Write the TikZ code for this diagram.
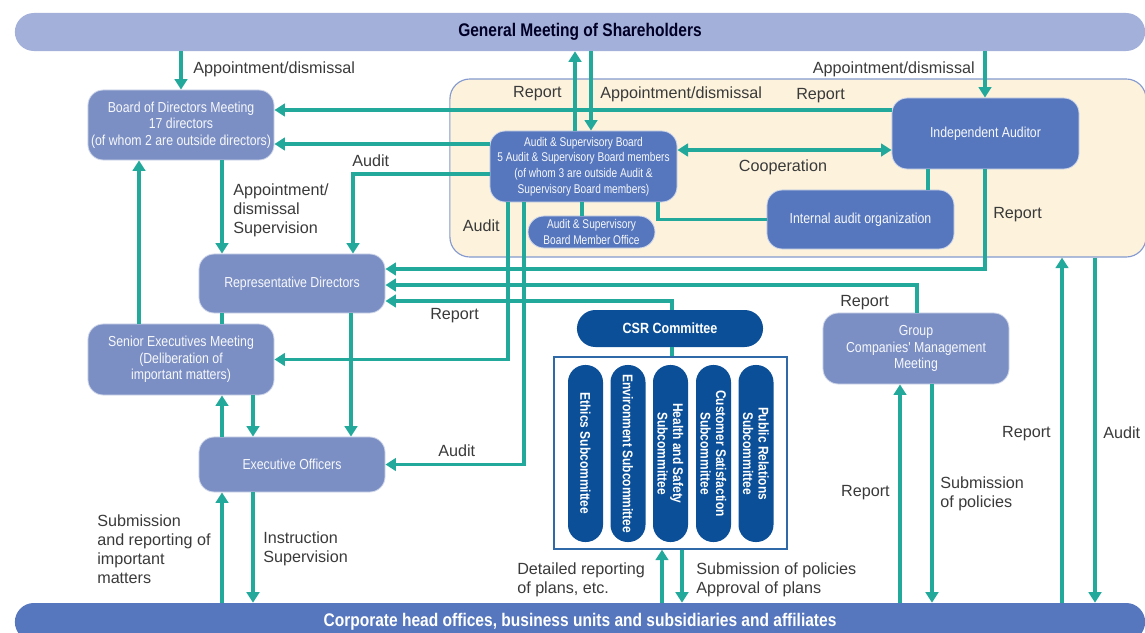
\documentclass[tikz,border=0pt]{standalone}
\usepackage{fontspec}
\setmainfont{Liberation Sans}
\newfontfamily\condfont[FakeStretch=0.85]{Liberation Sans}
\newfontfamily\narrowfont[FakeStretch=0.8]{Liberation Sans}
\usepackage{tikz}
\usetikzlibrary{arrows.meta, positioning}

\definecolor{flowteal}{HTML}{22A99B}
\definecolor{sharebar}{HTML}{A3B0DA}
\definecolor{paleblue}{HTML}{7B8FC4}
\definecolor{midblue}{HTML}{5677BD}
\definecolor{deepblue}{HTML}{0B4F98}
\definecolor{zonefill}{HTML}{FDF3DD}
\definecolor{zoneedge}{HTML}{8399CF}
\definecolor{labelgray}{HTML}{3A3A3A}

\tikzset{
  orgbox/.style={rectangle, rounded corners=0.38cm, draw=white!65!paleblue, line width=0.6pt,
    text=white!94!paleblue, align=center, inner sep=2pt,
    minimum width=4.65cm, font=\condfont\fontsize{10.3}{11.7}\selectfont},
  palebox/.style={orgbox, fill=paleblue},
  midbox/.style={orgbox, fill=midblue},
  bar/.style={rectangle, rounded corners=0.475cm, minimum width=28.25cm, minimum height=0.95cm,
    inner sep=0pt, font=\condfont\bfseries\fontsize{13}{15}\selectfont},
  subpill/.style={rectangle, rounded corners=0.43cm, fill=deepblue, text=white, align=center,
    rotate=-90, minimum width=4.425cm, minimum height=0.875cm, inner sep=1pt,
    font=\condfont\bfseries\fontsize{10}{11}\selectfont},
  flow/.style={draw=flowteal, line width=2.8pt, -{Triangle[width=9pt,length=7.5pt]}},
  flowboth/.style={draw=flowteal, line width=2.8pt, {Triangle[width=9pt,length=7.5pt]}-{Triangle[width=9pt,length=7.5pt]}},
  link/.style={draw=flowteal, line width=2.8pt},
  lbl/.style={text=labelgray, align=left, inner sep=0pt, yshift=-1.5pt, font=\fontsize{11.5}{13.5}\selectfont}
}

\begin{document}
\begin{tikzpicture}[x=0.025cm, y=-0.025cm]
  \clip (0,0) rectangle (1145,632);

  % audit area behind the audit bodies
  \node[rectangle, rounded corners=0.5cm, fill=zonefill, draw=zoneedge, line width=0.8pt,
        minimum width=17.4cm, minimum height=4.45cm] (zone) at (798,168) {};

  \node[bar, fill=sharebar, text=black!85!blue] (share) at (580,32) {General Meeting of Shareholders};
  \node[bar, fill=midblue, text=white] (corp) at (580,622) {Corporate head offices, business units and subsidiaries and affiliates};

  \node[palebox, minimum height=1.75cm] (board) at (181,125)
    {Board of Directors Meeting\\17 directors\\(of whom 2 are outside directors)};
  \node[palebox, minimum height=1.475cm] (repdir) at (292,283.5) {Representative Directors};
  \node[palebox, minimum height=1.775cm] (senior) at (181,359.5)
    {Senior Executives Meeting\\(Deliberation of\\important matters)};
  \node[palebox, minimum height=1.375cm] (exec) at (292,464.5) {Executive Officers};
  \node[palebox, minimum height=1.775cm] (group) at (916,348.5)
    {Group\\Companies' Management\\Meeting};

  \node[midbox, minimum width=4.675cm, minimum height=1.775cm,
        font=\narrowfont\fontsize{9}{11.2}\selectfont] (asb) at (583.5,166.5)
    {Audit \& Supervisory Board\\5 Audit \& Supervisory Board members\\(of whom 3 are outside Audit \&\\Supervisory Board members)};
  \node[midbox, rounded corners=0.4cm, minimum width=3.175cm, minimum height=0.8cm, inner sep=0pt,
        font=\narrowfont\fontsize{9}{11.2}\selectfont] (office) at (591.5,232)
    {Audit \& Supervisory\\Board Member Office};
  \node[midbox, minimum width=4.675cm, minimum height=1.775cm] (ia) at (985.5,133.5) {Independent Auditor};
  \node[midbox, minimum width=4.675cm, minimum height=1.475cm] (iao) at (860.5,219.5) {Internal audit organization};

  \node[rectangle, rounded corners=0.46cm, fill=deepblue, text=white, minimum width=4.65cm,
        minimum height=0.925cm, font=\condfont\bfseries\fontsize{10.5}{12}\selectfont] (csr) at (670,328.5) {CSR Committee};
  \node[rectangle, draw=deepblue!85!white, line width=0.9pt, fill=white,
        minimum width=5.825cm, minimum height=4.8cm] (panel) at (670.5,453) {};
  \node[subpill] (ethics) at (585.5,453.5) {Ethics Subcommittee};
  \node[subpill] (enviro) at (628,453.5) {Environment Subcommittee};
  \node[subpill] (safety) at (670.5,453.5) {Health and Safety\\Subcommittee};
  \node[subpill] (custsat) at (713.5,453.5) {Customer Satisfaction\\Subcommittee};
  \node[subpill] (pubrel) at (756,453.5) {Public Relations\\Subcommittee};

  % shareholders
  \draw[flow] (share.south -| board) -- (board.north);
  \draw[flow] (asb.north -| 575,0) -- (share.south -| 575,0);
  \draw[flow] (share.south -| 591,0) -- (asb.north -| 591,0);
  \draw[flow] (share.south -| 985,0) -- (ia.north -| 985,0);

  % audit bodies
  \draw[flow] (ia.west |- 0,110) -- (board.east |- 0,110);
  \draw[flow] (asb.west |- 0,144) -- (board.east |- 0,144);
  \draw[flow] (asb.west |- 0,174) -| (repdir.north -| 353,0);
  \draw[flowboth] (asb.east |- 0,150) -- (ia.west |- 0,150);
  \draw[link] (ia.south -| 928,0) -- (iao.north -| 928,0);
  \draw[link] (asb.south -| 658,0) |- (iao.west);
  \draw[link] (asb.south -| 582,0) -- (office.north -| 582,0);
  \draw[flow] (asb.south -| 508,0) |- (senior.east);
  \draw[flow] (asb.south -| 524,0) |- (exec.east);

  % execution side
  \draw[flow] (board.south -| 222,0) -- (repdir.north -| 222,0);
  \draw[flow] (senior.north -| 139,0) -- (board.south -| 139,0);
  \draw[link] (repdir.south -| 222,0) -- (senior.north -| 222,0);
  \draw[flow] (repdir.south -| 351,0) -- (exec.north -| 351,0);
  \draw[flow] (senior.south -| 253,0) -- (exec.north -| 253,0);
  \draw[flow] (exec.north -| 222,0) -- (senior.south -| 222,0);
  \draw[flow] (exec.south -| 253,0) -- (corp.north -| 253,0);
  \draw[flow] (corp.north -| 222,0) -- (exec.south -| 222,0);

  % reports to representative directors
  \draw[flow] (ia.south -| 985,0) |- (repdir.east |- 0,269);
  \draw[flow] (group.north -| 917,0) |- (repdir.east |- 0,285);
  \draw[flow] (csr.north -| 672,0) |- (repdir.east |- 0,301);

  % CSR and group companies
  \draw[link] (csr.south -| 672,0) -- (panel.north -| 672,0);
  \draw[flow] (corp.north -| 662,0) -- (panel.south -| 662,0);
  \draw[flow] (panel.south -| 682,0) -- (corp.north -| 682,0);
  \draw[flow] (corp.north -| 900,0) -- (group.south -| 900,0);
  \draw[flow] (group.south -| 932,0) -- (corp.north -| 932,0);
  \draw[flow] (corp.north -| 1062,0) -- (zone.south -| 1062,0);
  \draw[flow] (zone.south -| 1095,0) -- (corp.north -| 1095,0);

  % labels
  \node[lbl, anchor=west] (apptA) at (193,67) {Appointment/dismissal};
  \node[lbl, anchor=east] (rptA) at (562,92) {Report};
  \node[lbl, anchor=west] (apptB) at (600,92) {Appointment/dismissal};
  \node[lbl, anchor=west] (rptB) at (796,94) {Report};
  \node[lbl, anchor=east] (apptC) at (975,67) {Appointment/dismissal};
  \node[lbl, anchor=west] (auditA) at (352,159) {Audit};
  \node[lbl] (coop) at (783,165) {Cooperation};
  \node[lbl, anchor=west] (apptD) at (233,208.5) {Appointment/\\dismissal\\Supervision};
  \node[lbl, anchor=east] (auditB) at (500,224) {Audit};
  \node[lbl, anchor=west] (rptC) at (993,213) {Report};
  \node[lbl, anchor=west] (rptD) at (430,314) {Report};
  \node[lbl, anchor=west] (rptE) at (840,301) {Report};
  \node[lbl, anchor=west] (auditC) at (438,449) {Audit};
  \node[lbl, anchor=west] (subA) at (97,547.5) {Submission\\and reporting of\\important\\matters};
  \node[lbl, anchor=west] (instr) at (263,547) {Instruction\\Supervision};
  \node[lbl, anchor=west] (detail) at (517,578) {Detailed reporting\\of plans, etc.};
  \node[lbl, anchor=west] (subB) at (696,578) {Submission of policies\\Approval of plans};
  \node[lbl, anchor=east] (rptF) at (890,490) {Report};
  \node[lbl, anchor=west] (subC) at (940,492) {Submission\\of policies};
  \node[lbl, anchor=east] (rptG) at (1051,431) {Report};
  \node[lbl, anchor=west] (auditD) at (1103,431) {Audit};
\end{tikzpicture}
\end{document}
